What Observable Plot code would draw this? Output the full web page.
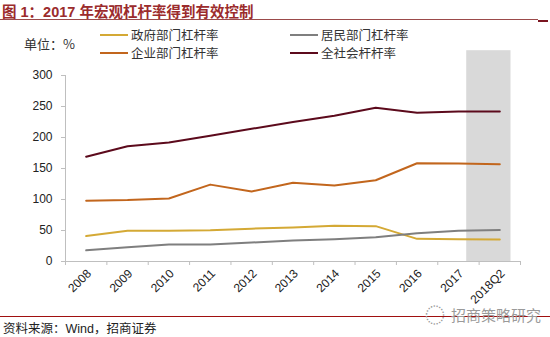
<!DOCTYPE html>
<html><head><meta charset="utf-8">
<script src="https://cdn.jsdelivr.net/npm/d3@7"></script>
<script src="https://cdn.jsdelivr.net/npm/@observablehq/plot@0.6"></script>
<style>
html,body{margin:0;padding:0;background:#fff;}
#wrap{position:relative;width:550px;height:337px;overflow:hidden;font-family:"Liberation Sans",Arial,sans-serif;}
.abs{position:absolute;white-space:nowrap;}
#title{left:2px;top:0px;font-size:14.5px;font-weight:bold;color:#9b2b2c;font-family:"Liberation Sans","Noto Sans CJK SC",sans-serif;}
#tline{left:0;top:19px;width:538px;height:1px;background:#9b4a4a;}
#tline2{left:538px;top:20px;width:10px;height:2px;background:#7a1520;}
.cjk{font-family:"Noto Sans CJK SC",sans-serif;}
#unit{left:24px;top:34px;font-size:13px;color:#333;}
.leg{font-size:12.5px;color:#333;display:flex;align-items:center;}
.sw{display:inline-block;width:28px;height:2px;margin-right:3px;}
#chart{left:0;top:45px;}
#cline{left:0;top:316px;width:550px;height:1px;background:#a01010;}
#cap{left:3px;top:318px;font-size:12.5px;color:#222;}
#wm{left:425px;top:300px;font-size:15px;color:#9a9a9a;}
#wm .ic{font-size:20px;margin-right:6px;vertical-align:-2px;}
</style></head>
<body><div id="wrap"></div>
<script>
const categories = ["2008","2009","2010","2011","2012","2013","2014","2015","2016","2017","2018Q2"];
const government = [41, 49.5, 49.5, 50.5, 53, 55, 57.5, 57, 36.5, 36, 35.5];
const household  = [18, 23, 27.5, 27.5, 30.5, 34, 36, 39, 45.5, 49.5, 51];
const corporate  = [98, 99, 101.5, 124, 113, 127, 122.5, 131, 158.5, 158, 157];
const total      = [169, 186, 192, 203, 214, 225, 235, 248, 240, 242, 242];
const seriesNames = ["政府部门杠杆率","企业部门杠杆率","居民部门杠杆率","全社会杆杆率"];
const seriesColors = ["#d4a935","#c2661d","#7f7f7f","#5c0a1c"];
const yTicks = [0,50,100,150,200,250,300];
const shade = [{x1: 9.2, x2: 10.27, y1: 0, y2: 340}];

const seriesValues = [government, corporate, household, total];
const rows = [];
seriesValues.forEach((vals, s) => vals.forEach((v, i) => rows.push({i, v, s: seriesNames[s]})));
const idx = categories.map((c, i) => i);
const bounds = d3.range(-0.5, categories.length, 1);

const wrap = document.getElementById("wrap");
function add(id, html, cls="abs") { const d = document.createElement("div"); d.id = id; d.className = cls; d.innerHTML = html; wrap.appendChild(d); return d; }
add("title", "图 1：2017 年宏观杠杆率得到有效控制");
add("tline", "");
add("tline2", "");
add("unit", "单位：%", "abs cjk");
const legPos = [[100, 25], [100, 43], [290, 25], [290, 43]];
seriesNames.forEach((n, k) => {
  const d = add("leg" + k, `<span class="sw" style="background:${seriesColors[k]}"></span><span>${n}</span>`, "abs leg cjk");
  d.style.left = legPos[k][0] + "px"; d.style.top = legPos[k][1] + "px";
});

const plot = Plot.plot({
  width: 550, height: 270,
  marginLeft: 65, marginRight: 30, marginTop: 30, marginBottom: 54,
  style: {fontFamily: "Liberation Sans, Arial, sans-serif", fontSize: "12px", color: "#222", overflow: "visible"},
  x: {type: "linear", domain: [-0.5, categories.length - 0.5], axis: null},
  y: {domain: [0, 300], axis: null},
  color: {domain: seriesNames, range: seriesColors},
  marks: [
    Plot.rect(shade, {x1: "x1", x2: "x2", y1: "y1", y2: "y2", fill: "#d9d9d9"}),
    Plot.ruleX([-0.5], {y1: 0, y2: 300, stroke: "#bfbfbf"}),
    Plot.ruleY([0], {x1: -0.5, x2: categories.length - 0.5, stroke: "#bfbfbf"}),
    Plot.ruleY(yTicks, {y: d => d, x1: -0.5, x2: -0.5, insetLeft: -4, stroke: "#bfbfbf"}),
    Plot.text(yTicks, {y: d => d, x: -0.5, dx: -13, textAnchor: "end", text: d => String(d), fill: "#222", fontSize: 12}),
    Plot.line(rows, {x: "i", y: "v", z: "s", stroke: "s", strokeWidth: 2, curve: "linear"}),
    Plot.ruleX(bounds, {y1: 0, y2: 0, stroke: "#bfbfbf", insetBottom: -4}),
    Plot.text(idx, {x: d => d, y: 0, text: d => categories[d], rotate: -45, textAnchor: "end", dx: 3, dy: 10, fill: "#222", fontSize: 12})
  ]
});
const holder = add("chart", "");
holder.appendChild(plot);

add("cline", "");
add("cap", "资料来源：<span style='font-family:Liberation Sans,Arial'>Wind</span>，招商证券", "abs cjk");
add("wm", "<span class='ic'>◌</span>招商策略研究", "abs cjk");
</script></body></html>
